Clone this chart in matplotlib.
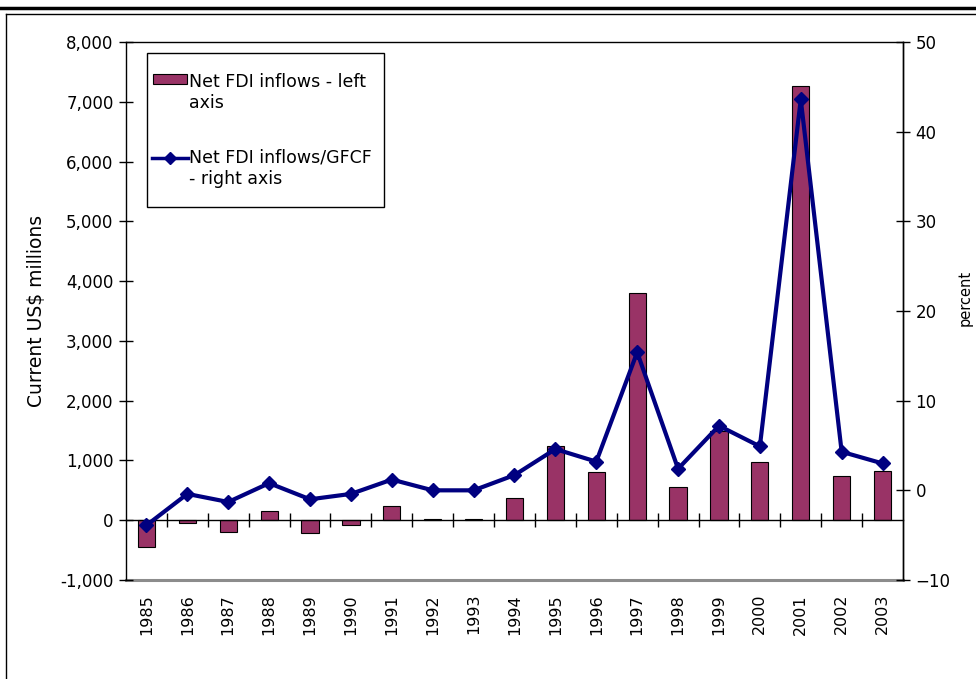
import matplotlib

matplotlib.use("Agg")
import matplotlib.pyplot as plt
from matplotlib.lines import Line2D
from matplotlib.patches import Rectangle
from matplotlib.ticker import FuncFormatter

# ---- data ----------------------------------------------------------------
years = ["1985", "1986", "1987", "1988", "1989", "1990", "1991", "1992", "1993",
         "1994", "1995", "1996", "1997", "1998", "1999", "2000", "2001", "2002",
         "2003"]
fdi_inflows = [-440, -45, -195, 150, -215, -85, 240, 20, 20,
               370, 1245, 810, 3805, 555, 1500, 975, 7270, 735, 825]
fdi_gfcf = [-3.9, -0.4, -1.3, 0.8, -1.0, -0.4, 1.2, 0.0, 0.0,
            1.7, 4.6, 3.2, 15.4, 2.4, 7.2, 4.9, 43.6, 4.3, 3.0]

BAR = "#993366"
LINE = "#000080"
plt.rcParams["font.family"] = "DejaVu Sans"

W, H = 976, 679
fig = plt.figure(figsize=(W / 100, H / 100), dpi=100)
ax = fig.add_axes([126 / W, 1 - 580 / H, (903 - 126) / W, (580 - 42) / H])
ax2 = ax.twinx()

x = list(range(len(years)))


def fx(px):
    return px / W


def fy(py):
    return 1 - py / H


# ---- bars (left axis) ----------------------------------------------------
ax.bar(x, fdi_inflows, width=0.42, color=BAR, edgecolor="black", lw=0.8, zorder=2)
ax.set_xlim(-0.5, len(years) - 0.5)
ax.set_ylim(-1000, 8000)
ax.set_yticks(range(-1000, 8001, 1000))
ax.yaxis.set_major_formatter(FuncFormatter(lambda v, p: f"{int(v):,}"))
ax.tick_params(axis="y", direction="inout", length=10, width=1, labelsize=12, pad=4)
ax.set_ylabel("Current US$ millions", fontsize=13.5, labelpad=10)

# category axis crossing at zero, tick marks between categories
ax.spines["bottom"].set_position(("data", 0))
ax.spines["bottom"].set_linewidth(1)
ax.set_xticks(x)
ax.set_xticks([i + 0.5 for i in x[:-1]], minor=True)
ax.tick_params(axis="x", which="major", length=0, labelbottom=False)
ax.tick_params(axis="x", which="minor", direction="inout", length=10, width=1)

# year labels under the plot area
sec = ax.secondary_xaxis(0.0)
sec.set_xticks(x)
sec.set_xticklabels(years, rotation=90, fontsize=11.5)
sec.tick_params(length=0, pad=10)
sec.spines["bottom"].set_color("#8c8c8c")
sec.spines["bottom"].set_linewidth(2.2)

for s in ("left", "right", "top"):
    ax.spines[s].set_linewidth(1)
    ax.spines[s].set_color("black")

# ---- line (right axis) ---------------------------------------------------
ax2.plot(x, fdi_gfcf, color=LINE, lw=3, marker="D", ms=7, zorder=3)
ax2.set_ylim(-10, 50)
ax2.set_yticks(range(-10, 51, 10))
ax2.tick_params(axis="y", direction="inout", length=10, width=1, labelsize=12, pad=4)
for s in ax2.spines.values():
    s.set_visible(False)
ax2.spines["right"].set_visible(True)
ax2.spines["right"].set_linewidth(1)
# right-axis title sits close to the image edge, place it directly
fig.text(fx(965), fy(298), "percent", rotation=90, ha="center", va="center",
         fontsize=10.5)

# ---- legend (drawn by hand, Excel style: handle next to first text line) --
fig.add_artist(Rectangle((fx(147), fy(207)), fx(384) - fx(147), fy(53) - fy(207),
                         transform=fig.transFigure, fc="white", ec="black", lw=1,
                         zorder=5))
fig.add_artist(Rectangle((fx(153), fy(84)), fx(187) - fx(153), fy(74) - fy(84),
                         transform=fig.transFigure, fc=BAR, ec="black", lw=0.8,
                         zorder=6))
fig.add_artist(Line2D([fx(152), fx(188)], [fy(158)] * 2, color=LINE, lw=2.5,
                      zorder=6))
fig.add_artist(Line2D([fx(170)], [fy(158)], color=LINE, marker="D", ms=6,
                      zorder=6))
fig.text(fx(189), fy(73), "Net FDI inflows - left\naxis", ha="left", va="top",
         fontsize=12.5, linespacing=1.25, zorder=7)
fig.text(fx(189), fy(149), "Net FDI inflows/GFCF\n- right axis", ha="left",
         va="top", fontsize=12.5, linespacing=1.25, zorder=7)

# ---- outer frame ---------------------------------------------------------
fig.add_artist(Line2D([0, 1], [fy(7.5)] * 2, color="black", lw=2.5))
fig.add_artist(Line2D([fx(6), 1], [fy(14)] * 2, color="black", lw=1))
fig.add_artist(Line2D([fx(6), fx(6)], [0, fy(14)], color="black", lw=1))

fig.savefig("out.png", dpi=100, facecolor="white")
